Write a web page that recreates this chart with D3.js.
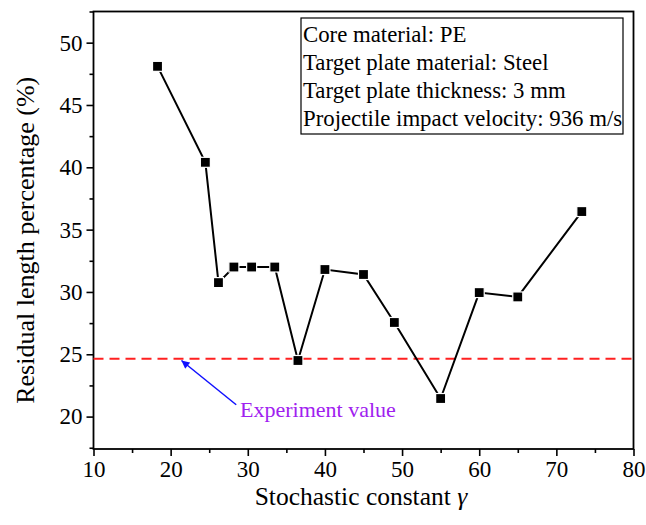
<!DOCTYPE html>
<html><head><meta charset="utf-8">
<script src="https://cdn.jsdelivr.net/npm/d3@7"></script>
</head><body style="margin:0;background:#fff"><svg id="c" width="646" height="525" style="font-family:'Times New Roman'"></svg>
<script>
const gamma = [18.3, 24.5, 26.2, 28.2, 30.5, 33.5, 36.5, 40.0, 45.0, 49.0, 55.0, 60.0, 65.0, 73.3];
const residual = [48.1, 40.4, 30.75, 32.0, 32.0, 32.0, 24.5, 31.8, 31.4, 27.55, 21.45, 29.95, 29.6, 36.45];
const experimentValue = 24.65;
const xTicks = [10, 20, 30, 40, 50, 60, 70, 80];
const yTicks = [20, 25, 30, 35, 40, 45, 50];
const infoLines = ["Core material: PE", "Target plate material: Steel", "Target plate thickness: 3 mm", "Projectile impact velocity: 936 m/s"];
const annotationText = "Experiment value";
const arrowFrom = [28.5, 20.95], arrowTo = [21.4, 24.5];

const FONT = '"Times New Roman"';
const svg = d3.select("#c");
const L = 93.5, R = 633.5, T = 11.5, B = 449;
const x = d3.scaleLinear().domain([10, 80]).range([L, R]);
const y = d3.scaleLinear().domain([17.4, 52.5]).range([B, T]);

const xMinor = d3.range(15, 80, 10);
const yMinor = d3.range(17.5, 52.6, 5);
svg.append("g").attr("transform", `translate(0,${B})`)
  .call(d3.axisBottom(x).tickValues(xTicks).tickSize(7).tickPadding(5).tickFormat(d3.format("d")));
svg.append("g").attr("transform", `translate(0,${B})`)
  .call(d3.axisBottom(x).tickValues(xMinor).tickSize(4).tickFormat(""));
svg.append("g").attr("transform", `translate(${L},0)`)
  .call(d3.axisLeft(y).tickValues(yTicks).tickSize(7).tickPadding(4).tickFormat(d3.format("d")));
svg.append("g").attr("transform", `translate(${L},0)`)
  .call(d3.axisLeft(y).tickValues(yMinor).tickSize(4).tickFormat(""));
svg.selectAll(".domain").remove();
svg.selectAll("g").attr("font-family", null).attr("font-size", null);
svg.selectAll(".tick line").attr("stroke", "#000").attr("stroke-width", 1.6);
svg.selectAll(".tick text").attr("fill", "#000").style("font-size", "23px").style("font-family", FONT);

svg.append("rect").attr("x", L).attr("y", T).attr("width", R - L).attr("height", B - T)
  .attr("fill", "none").attr("stroke", "#000").attr("stroke-width", 1.8);

svg.append("line").attr("x1", L).attr("x2", R).attr("y1", y(experimentValue)).attr("y2", y(experimentValue))
  .attr("stroke", "#ff2020").attr("stroke-width", 2).attr("stroke-dasharray", "10,6");

const pts = gamma.map((g, i) => [g, residual[i]]);
svg.append("path").datum(pts)
  .attr("d", d3.line().x(d => x(d[0])).y(d => y(d[1])))
  .attr("fill", "none").attr("stroke", "#000").attr("stroke-width", 2);
svg.selectAll("rect.pt").data(pts).enter().append("rect").attr("class", "pt")
  .attr("x", d => x(d[0]) - 5).attr("y", d => y(d[1]) - 5).attr("width", 10).attr("height", 10)
  .attr("fill", "#000").attr("stroke", "#fff").attr("stroke-width", 1.2);

const defs = svg.append("defs");
defs.append("marker").attr("id", "ah").attr("viewBox", "0 0 10 10").attr("refX", 10).attr("refY", 5)
  .attr("markerWidth", 9).attr("markerHeight", 8).attr("markerUnits", "userSpaceOnUse").attr("orient", "auto")
  .append("path").attr("d", "M0,0 L10,5 L0,10 z").attr("fill", "#1010ff");
svg.append("line").attr("x1", x(arrowFrom[0])).attr("y1", y(arrowFrom[1]))
  .attr("x2", x(arrowTo[0])).attr("y2", y(arrowTo[1]))
  .attr("stroke", "#1010ff").attr("stroke-width", 1.5).attr("marker-end", "url(#ah)");
svg.append("text").attr("x", 240).attr("y", 417).text(annotationText)
  .style("font-family", FONT).style("font-size", "22px").attr("fill", "#a020f0");

svg.append("rect").attr("x", 301).attr("y", 18).attr("width", 322).attr("height", 116)
  .attr("fill", "#fff").attr("stroke", "#000").attr("stroke-width", 1.2);
infoLines.forEach((t, i) => {
  svg.append("text").attr("x", 303).attr("y", 42 + i * 28).text(t)
    .style("font-family", FONT).style("font-size", "22.8px").attr("fill", "#000");
});

const xt = svg.append("text").attr("x", 361).attr("y", 505).attr("text-anchor", "middle")
  .style("font-family", FONT).style("font-size", "25.5px").attr("fill", "#000");
xt.append("tspan").text("Stochastic constant  ");
xt.append("tspan").text("γ").style("font-style", "italic");
svg.append("text").attr("transform", `translate(34,${(T + B) / 2 + 10}) rotate(-90)`).attr("text-anchor", "middle")
  .style("font-family", FONT).style("font-size", "26px").attr("fill", "#000").text("Residual length percentage (%)");
</script></body></html>
